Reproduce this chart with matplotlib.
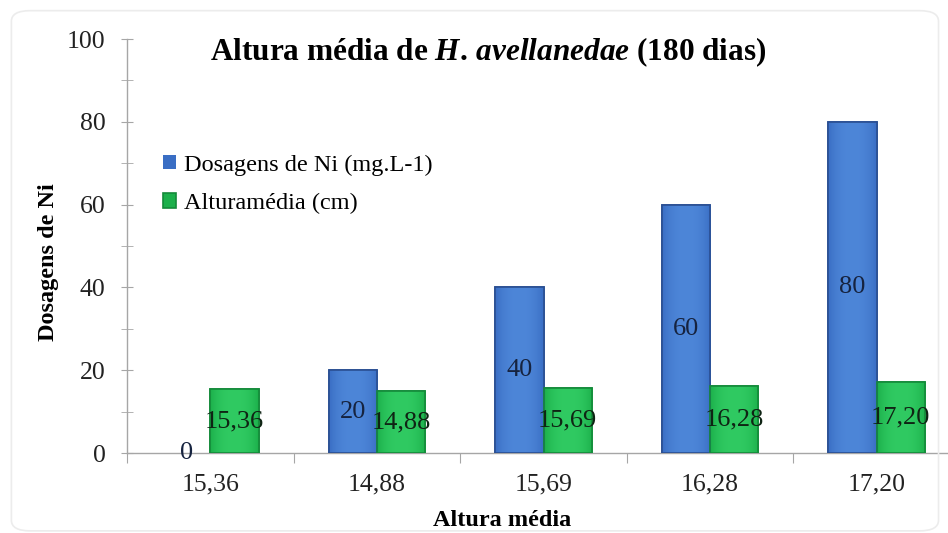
import numpy as np
import matplotlib
matplotlib.use("Agg")
import matplotlib.pyplot as plt
from matplotlib.colors import to_rgb
from matplotlib.patches import FancyBboxPatch

plt.rcParams['font.family'] = ['Liberation Serif', 'DejaVu Serif']
plt.rcParams['mathtext.fontset'] = 'custom'
plt.rcParams['mathtext.it'] = 'Liberation Serif:italic:bold'
plt.rcParams['mathtext.rm'] = 'Liberation Serif:bold'

categorias = ["15,36", "14,88", "15,69", "16,28", "17,20"]
dosagens = [0, 20, 40, 60, 80]
altura = [15.36, 14.88, 15.69, 16.28, 17.20]
rotulos_altura = ["15,36", "14,88", "15,69", "16,28", "17,20"]

azul, azul_claro, azul_borda = "#3a6ec4", "#4d86d8", "#2a4f92"
verde, verde_claro, verde_borda = "#1cb04b", "#30ca62", "#148a3a"


def sombrear(ax, barras, escura, clara, borda):
    # gradiente horizontal (laterais escuras, centro claro) recortado em cada barra
    e, c = np.array(to_rgb(escura)), np.array(to_rgb(clara))
    t = np.linspace(0, 1, 64)
    perfil = 1 - np.abs(2 * t - 1) ** 2.5
    grad = e + (c - e) * perfil[:, None]
    for b in barras:
        if b.get_height() == 0:
            b.set_linewidth(0)
            continue
        x0, y0, w, h = b.get_x(), b.get_y(), b.get_width(), b.get_height()
        im = ax.imshow(grad[None, :, :], extent=[x0, x0 + w, y0, y0 + h],
                       aspect="auto", zorder=3.1, interpolation="bilinear")
        im.set_clip_path(b)
        ax.bar(x0 + w / 2, h, w, fill=False, edgecolor=borda, linewidth=1.2,
               zorder=3.2)


def main():
    fig = plt.figure(figsize=(9.48, 5.33), dpi=100)

    # moldura clara arredondada do gráfico
    fig.patches.append(FancyBboxPatch((0.012, 0.004), 0.978, 0.976,
                                      boxstyle="round,pad=0,rounding_size=0.02",
                                      transform=fig.transFigure, fill=False,
                                      edgecolor="#ececec", linewidth=1.2))

    ax = fig.add_axes([127 / 948, 80 / 533, 833 / 948, 414 / 533])
    x = np.arange(len(categorias)) + 0.5
    w = 0.29

    b1 = ax.bar(x - w / 2, dosagens, w, color=azul, edgecolor=azul_borda,
                linewidth=1.2, label="Dosagens de Ni (mg.L-1)", zorder=3)
    b2 = ax.bar(x + w / 2, altura, w, color=verde, edgecolor=verde_borda,
                linewidth=1.2, label="Alturamédia (cm)", zorder=3)
    sombrear(ax, b1, azul, azul_claro, azul_borda)
    sombrear(ax, b2, verde, verde_claro, verde_borda)

    # rótulos de valores no meio das barras
    for xi, v in zip(x - w / 2, dosagens):
        ax.text(xi, v / 2, f"{v}", ha="center", va="center", fontsize=19,
                color="#16233f", zorder=4)
    for xi, v, r in zip(x + w / 2, altura, rotulos_altura):
        ax.text(xi, v / 2, r, ha="center", va="center", fontsize=19,
                color="#0f2414", zorder=4)

    ax.set_xlim(0, len(categorias))
    ax.set_ylim(0, 100)
    ax.set_yticks(np.arange(0, 101, 20))
    ax.set_yticks(np.arange(10, 100, 20), minor=True)
    ax.set_xticks(np.arange(len(categorias) + 1))
    ax.set_xticklabels([])
    ax.set_xticks(x, minor=True)
    ax.set_xticklabels(categorias, minor=True)

    for s in ["top", "right"]:
        ax.spines[s].set_visible(False)
    for s in ["left", "bottom"]:
        ax.spines[s].set_color("#a6a6a6")
        ax.spines[s].set_linewidth(1.0)

    ax.tick_params(axis="y", which="both", direction="inout", length=9,
                   color="#a6a6a6", labelsize=18.5, labelcolor="#222222", pad=11)
    ax.tick_params(axis="x", which="major", direction="out", length=7,
                   color="#a6a6a6")
    ax.tick_params(axis="x", which="minor", length=0, labelsize=18.5,
                   labelcolor="#222222", pad=15)

    ax.set_ylabel("Dosagens de Ni", fontsize=17.5, fontweight="bold")
    ax.yaxis.set_label_coords(-0.082, 0.46)
    fig.text(502 / 948, 1 - 521 / 533, "Altura média", ha="center",
             va="center", fontsize=17.5, fontweight="bold")

    fig.text(488 / 948, 1 - 52 / 533,
             r"Altura média de $\mathit{H.\,avellanedae}$ (180 dias)",
             ha="center", va="center", fontsize=22.5, fontweight="bold")

    ax.legend(loc="upper left", bbox_to_anchor=(163 / 948, 0.71),
              bbox_transform=fig.transFigure, frameon=False, fontsize=17.5,
              handlelength=0.55, handleheight=0.55, handletextpad=0.3,
              labelspacing=0.7, borderpad=0, borderaxespad=0)

    fig.savefig("out.png", dpi=100)


if __name__ == "__main__":
    main()
